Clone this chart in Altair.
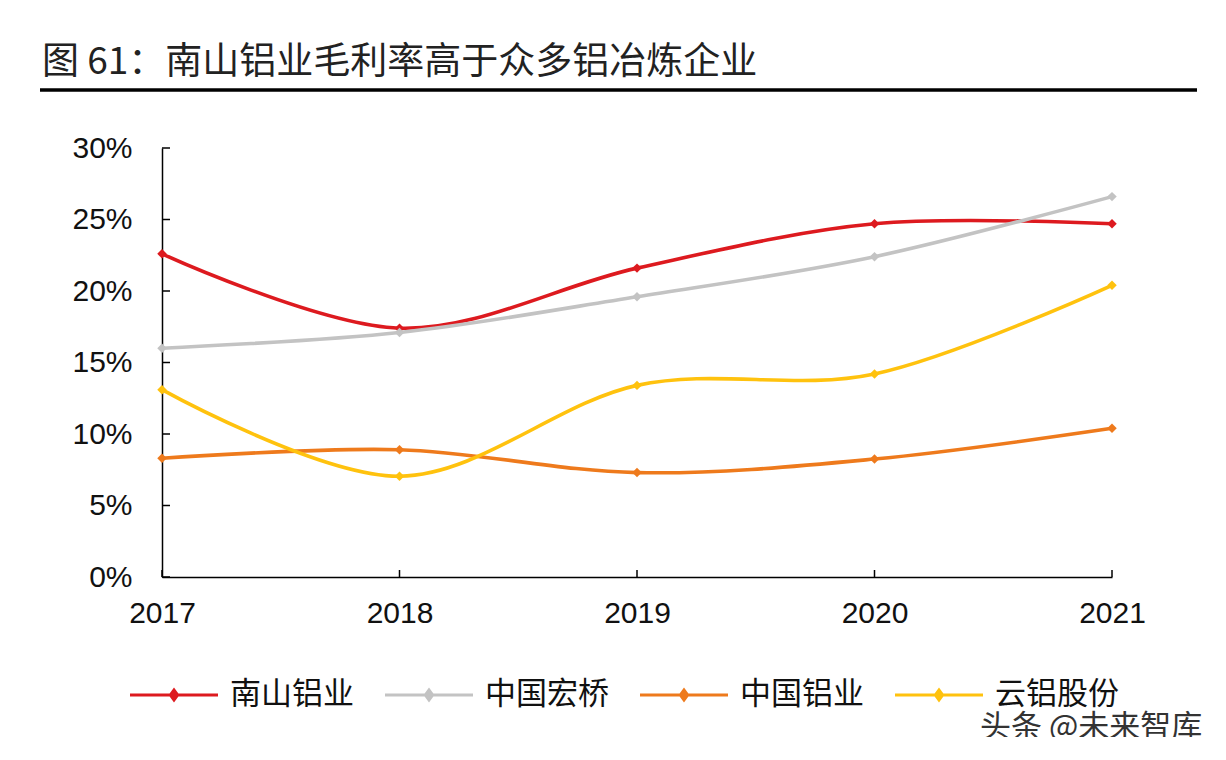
import altair as alt
import pandas as pd

years = ["2017", "2018", "2019", "2020", "2021"]
series_names = ["南山铝业", "中国宏桥", "中国铝业", "云铝股份"]
nanshan = [22.6, 17.4, 21.6, 24.7, 24.7]
hongqiao = [16.0, 17.1, 19.6, 22.4, 26.6]
chalco = [8.3, 8.9, 7.3, 8.25, 10.4]
yunlv = [13.1, 7.05, 13.4, 14.2, 20.4]
y_ticks = [0, 5, 10, 15, 20, 25, 30]
colors = ["#DD1A1F", "#C3C3C3", "#EE7A1C", "#FFC20E"]
title_text = "图 61：南山铝业毛利率高于众多铝冶炼企业"
watermark_text = "头条 @未来智库"

rows = []
for name, vals in zip(series_names, [nanshan, hongqiao, chalco, yunlv]):
    for y, v in zip(years, vals):
        rows.append({"year": y, "series": name, "value": v / 100})
df = pd.DataFrame(rows)

W, H = 950, 429
CJK = "Noto Sans CJK SC"
LAT = "Liberation Sans"

x_enc = alt.X("year:O", scale=alt.Scale(type="point", padding=0, domain=years),
              axis=alt.Axis(title=None, labelAngle=0, labelAlign="center", labelBaseline="top",
                            labelFont=LAT, labelFontSize=30,
                            labelColor="#111", labelPadding=21, ticks=False, tickSize=0,
                            labelFlush=False,
                            domainColor="#000", domainWidth=1.5))
y_enc = alt.Y("value:Q", scale=alt.Scale(domain=[0, 0.3], nice=False),
              axis=alt.Axis(title=None, format=".0%", values=[t / 100 for t in y_ticks],
                            labelFont=LAT, labelFontSize=30, labelColor="#111",
                            labelPadding=30, ticks=False, tickSize=0, grid=False,
                            domainColor="#000", domainWidth=1.5))
color_enc = alt.Color("series:N", scale=alt.Scale(domain=series_names, range=colors),
                      sort=series_names,
                      legend=alt.Legend(title=None, orient="none", direction="horizontal",
                                        legendX=-34, legendY=501,
                                        symbolType="M-1,0L1,0M0,-0.11L0.08,0L0,0.11L-0.08,0Z M0,-0.05L0.035,0L0,0.05L-0.035,0Z",
                                        symbolSize=7744, symbolStrokeWidth=3.2,
                                        labelFont=CJK, labelFontSize=31, labelColor="#111",
                                        labelOffset=10, columnPadding=24, labelLimit=300))

lines = alt.Chart(df).mark_line(interpolate="cardinal", strokeWidth=3.6).encode(
    x=x_enc, y=y_enc, color=color_enc)
points = alt.Chart(df).mark_point(shape="diamond", filled=True, size=90, opacity=1).encode(
    x="year:O", y="value:Q",
    color=alt.Color("series:N", scale=alt.Scale(domain=series_names, range=colors), legend=None))

ytick_df = pd.DataFrame({"v": [t / 100 for t in y_ticks]})
yticks = alt.Chart(ytick_df).mark_rule(color="#000", strokeWidth=1.5).encode(
    y=alt.Y("v:Q"), x=alt.value(0), x2=alt.value(8))
xtick_df = pd.DataFrame({"year": years})
xticks = alt.Chart(xtick_df).mark_rule(color="#000", strokeWidth=1.5).encode(
    x=alt.X("year:O"), y=alt.value(H), y2=alt.value(H - 7))

title = alt.Chart(pd.DataFrame({"t": [title_text]})).mark_text(
    align="left", baseline="middle", font=CJK, fontSize=37, color="#222").encode(
    text="t:N", x=alt.value(-120), y=alt.value(-85))
title_rule = alt.Chart(pd.DataFrame({"t": [0]})).mark_rule(color="#000", strokeWidth=3.5).encode(
    x=alt.value(-122), x2=alt.value(1035), y=alt.value(-58))
watermark = alt.Chart(pd.DataFrame({"t": [watermark_text]})).mark_text(
    align="left", baseline="middle", font=CJK, fontSize=31, color="#333").encode(
    text="t:N", x=alt.value(818), y=alt.value(580))

chart = alt.layer(title_rule, yticks, xticks, lines, points, title, watermark).properties(
    width=W, height=H,
    background="white",
    autosize=alt.AutoSizeParams(type="none"),
    padding={"left": 154, "top": 140, "right": 100, "bottom": 160},
).configure_view(strokeWidth=0)

chart.save("out.html", embed_options={"renderer": "svg", "actions": False})
